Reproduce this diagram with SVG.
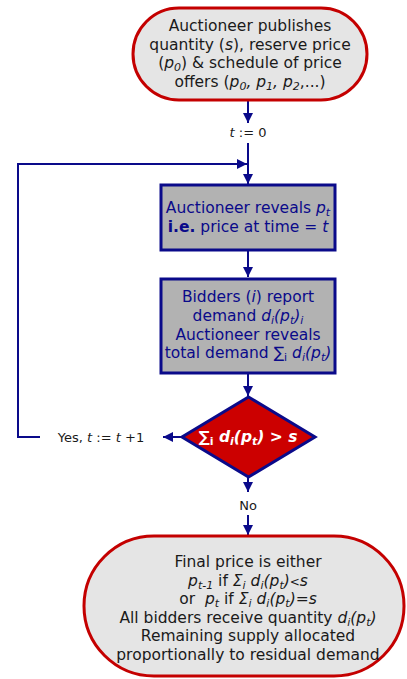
<svg xmlns="http://www.w3.org/2000/svg" width="407" height="679" viewBox="0 0 407 679">
<defs>
<marker id="ah" markerUnits="userSpaceOnUse" markerWidth="11" markerHeight="11" refX="10" refY="5" orient="auto">
<path d="M0,0 L10,5 L0,10 z" fill="#0a0a8a"/>
</marker>
<style>
text{font-family:"DejaVu Sans","Verdana",sans-serif;font-size:15.5px;text-anchor:middle;}
.term{fill:#e5e5e5;stroke:#c40000;stroke-width:3;}
.proc{fill:#b2b2b2;stroke:#0a0a8a;stroke-width:3;}
.dec{fill:#cc0000;stroke:#0a0a8a;stroke-width:3;}
.dark{fill:#1a1a1a;}
.navy{fill:#0a0a8a;}
.white{fill:#ffffff;font-weight:bold;}
.lbl{fill:#1a1a1a;font-size:13px;}
.it{font-style:italic;}
.sub{font-size:11px;}
.conn{fill:none;stroke:#0a0a8a;stroke-width:2;}
</style>
</defs>
<g id="connectors">
<line class="conn" x1="248" y1="100" x2="248" y2="123" marker-end="url(#ah)"/>
<line class="conn" x1="248" y1="143" x2="248" y2="184" marker-end="url(#ah)"/>
<line class="conn" x1="248" y1="251" x2="248" y2="277" marker-end="url(#ah)"/>
<line class="conn" x1="248" y1="374" x2="248" y2="396" marker-end="url(#ah)"/>
<line class="conn" x1="182" y1="437" x2="163" y2="437" marker-end="url(#ah)"/>
<line class="conn" x1="248" y1="477" x2="248" y2="492" marker-end="url(#ah)"/>
<line class="conn" x1="248" y1="515" x2="248" y2="535" marker-end="url(#ah)"/>
<polyline class="conn" points="40,437 18,437 18,164 247,164" marker-end="url(#ah)"/>
<text class="lbl" x="101" y="442">Yes, <tspan class="it">t</tspan> := <tspan class="it">t</tspan> +1</text>
<text class="lbl" x="248" y="137"><tspan class="it">t</tspan> := 0</text>
<text class="lbl" x="248" y="510">No</text>
</g>
<g id="start">
<rect class="term" x="133" y="8" width="234" height="92" rx="46" ry="46"/>
<text class="dark" x="250" y="31">Auctioneer publishes</text>
<text class="dark" x="250" y="49.5">quantity (<tspan class="it">s</tspan>), reserve price</text>
<text class="dark" x="250" y="68">(<tspan class="it">p<tspan class="sub" dy="3">0</tspan></tspan><tspan dy="-3">) &amp; schedule of price</tspan></text>
<text class="dark" x="250" y="86.5">offers (<tspan class="it">p<tspan class="sub" dy="3">0</tspan><tspan dy="-3">, p</tspan><tspan class="sub" dy="3">1</tspan><tspan dy="-3">, p</tspan><tspan class="sub" dy="3">2</tspan></tspan><tspan dy="-3">,...)</tspan></text>
</g>
<g id="reveal">
<rect class="proc" x="161" y="185" width="174" height="65"/>
<text class="navy" x="248" y="213">Auctioneer reveals <tspan class="it">p<tspan class="sub" dy="3">t</tspan></tspan></text>
<text class="navy" x="248" y="231.5"><tspan font-weight="bold">i.e.</tspan> price at time = <tspan class="it">t</tspan></text>
</g>
<g id="report">
<rect class="proc" x="161" y="279" width="174" height="94"/>
<text class="navy" x="248" y="302">Bidders (<tspan class="it">i</tspan>) report</text>
<text class="navy" x="248" y="320.5">demand <tspan class="it">d<tspan class="sub" dy="3">i</tspan><tspan dy="-3">(p</tspan><tspan class="sub" dy="3">t</tspan><tspan dy="-3">)</tspan><tspan class="sub" dy="3">i</tspan></tspan></text>
<text class="navy" x="248" y="339.5">Auctioneer reveals</text>
<text class="navy" x="248" y="358">total demand ∑<tspan class="sub" dy="3">i</tspan><tspan dy="-3"> </tspan><tspan class="it">d<tspan class="sub" dy="3">i</tspan><tspan dy="-3">(p</tspan><tspan class="sub" dy="3">t</tspan><tspan dy="-3">)</tspan></tspan></text>
</g>
<g id="decision">
<polygon class="dec" points="248.5,397 315,437 248.5,477 182,437"/>
<text class="white" x="248" y="442">∑<tspan class="sub" dy="3">i</tspan><tspan dy="-3"> </tspan><tspan class="it">d<tspan class="sub" dy="3">i</tspan><tspan dy="-3">(p</tspan><tspan class="sub" dy="3">t</tspan><tspan dy="-3">)</tspan></tspan> &gt; <tspan class="it">s</tspan></text>
</g>
<g id="end">
<rect class="term" x="84" y="536" width="320" height="140" rx="70" ry="70"/>
<text class="dark" x="248" y="567">Final price is either</text>
<text class="dark" x="248" y="585.5"><tspan class="it">p<tspan class="sub" dy="3">t-1</tspan></tspan><tspan dy="-3"> if </tspan><tspan class="it">Σ<tspan class="sub" dy="3">i</tspan><tspan dy="-3"> d</tspan><tspan class="sub" dy="3">i</tspan><tspan dy="-3">(p</tspan><tspan class="sub" dy="3">t</tspan><tspan dy="-3">)</tspan></tspan><tspan font-size="12px">&lt;</tspan><tspan class="it">s</tspan></text>
<text class="dark" x="248" y="604">or&#160; <tspan class="it">p<tspan class="sub" dy="3">t</tspan></tspan><tspan dy="-3"> if </tspan><tspan class="it">Σ<tspan class="sub" dy="3">i</tspan><tspan dy="-3"> d</tspan><tspan class="sub" dy="3">i</tspan><tspan dy="-3">(p</tspan><tspan class="sub" dy="3">t</tspan><tspan dy="-3">)</tspan></tspan>=<tspan class="it">s</tspan></text>
<text class="dark" x="248" y="622.5">All bidders receive quantity <tspan class="it">d<tspan class="sub" dy="3">i</tspan><tspan dy="-3">(p</tspan><tspan class="sub" dy="3">t</tspan><tspan dy="-3">)</tspan></tspan></text>
<text class="dark" x="248" y="641">Remaining supply allocated</text>
<text class="dark" x="248" y="659.5">proportionally to residual demand</text>
</g>
</svg>
